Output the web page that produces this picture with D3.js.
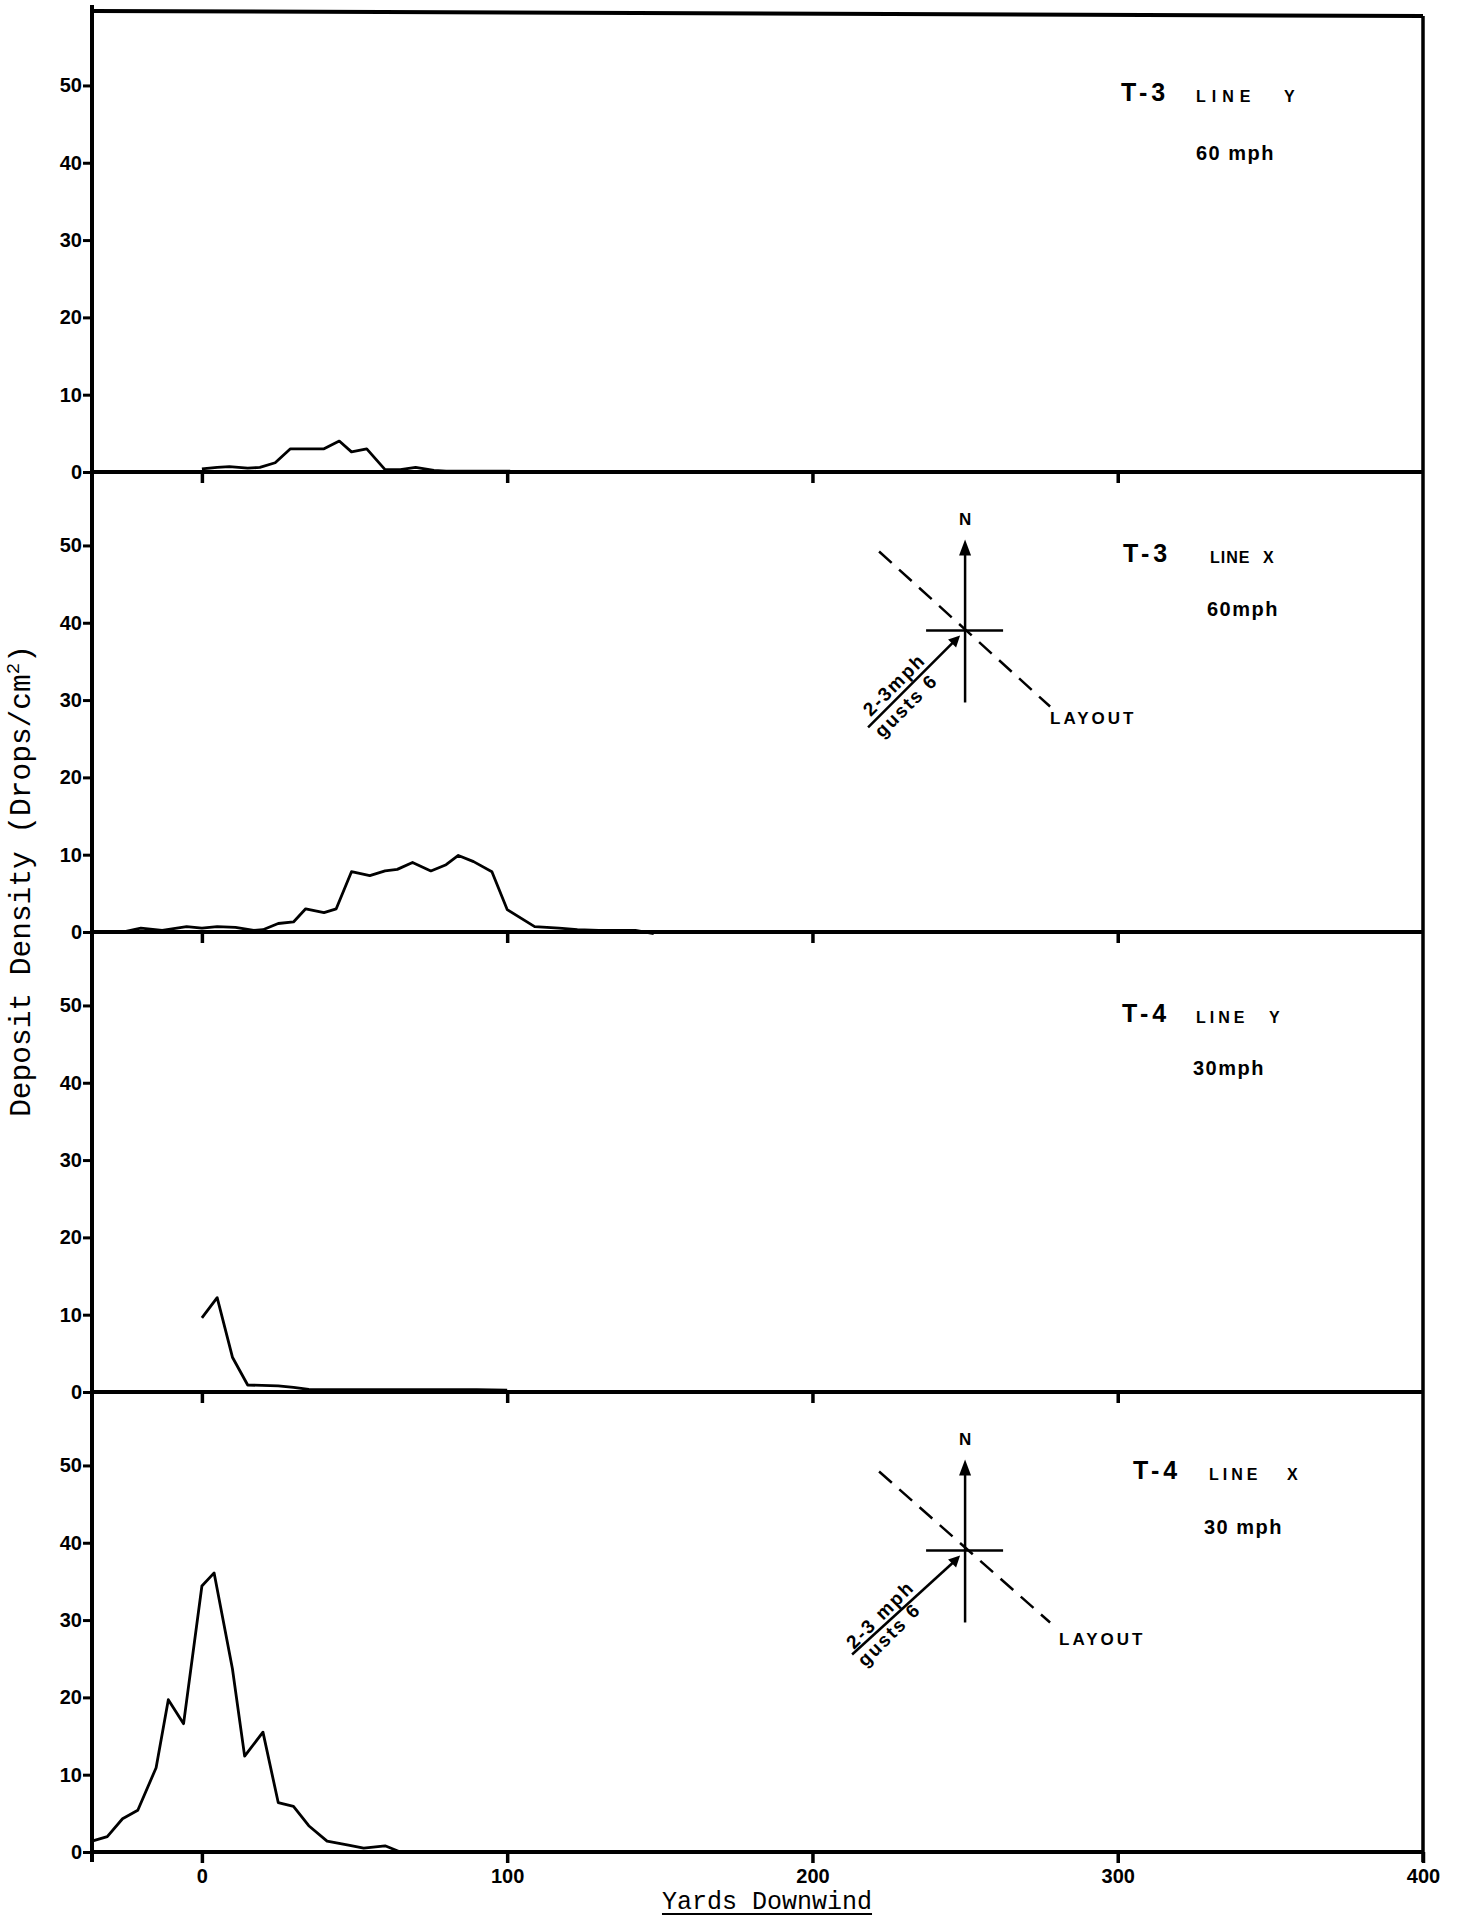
<!DOCTYPE html>
<html><head><meta charset="utf-8">
<script src="https://cdn.jsdelivr.net/npm/d3@7"></script>
<style>body{margin:0;background:#fff} svg{display:block}</style>
</head><body>
<script>
// ---------- data ----------
const xTicks = [0, 100, 200, 300, 400];
const yTicks = [0, 10, 20, 30, 40, 50];
const panelTests = ["T-3", "T-3", "T-4", "T-4"];
const panelLines = ["Y", "X", "Y", "X"];
const panelSpeeds = ["60 mph", "60mph", "30mph", "30 mph"];
const panelHasCompass = [false, true, false, true];
const windLabel = ["2-3mph", "2-3 mph"];
const gustLabel = "gusts 6";

// T-3 line Y (yards downwind, drops/cm2)
const t3YDist    = [0, 5, 9, 15, 19, 24, 29, 35, 40, 45, 49, 54, 60, 65, 70, 76, 80, 89, 101];
const t3YDensity = [0.4, 0.6, 0.7, 0.5, 0.6, 1.2, 3.0, 3.0, 3.0, 4.0, 2.6, 3.0, 0.3, 0.3, 0.6, 0.2, 0.1, 0.1, 0.1];
// T-3 line X
const t3XDist    = [-26, -20, -13, -5, 0, 5, 11, 17, 20, 25, 30, 34, 40, 44, 49, 55, 60, 64, 69, 75, 80, 84, 89, 95, 100, 109, 117, 123, 130, 142, 148];
const t3XDensity = [0.0, 0.5, 0.2, 0.7, 0.5, 0.7, 0.6, 0.2, 0.3, 1.1, 1.3, 3.0, 2.5, 3.0, 7.8, 7.3, 7.9, 8.1, 9.0, 7.9, 8.7, 9.9, 9.1, 7.8, 2.9, 0.7, 0.5, 0.3, 0.2, 0.2, -0.2];
// T-4 line Y
const t4YDist    = [0, 5, 10, 15, 25, 30, 35, 40, 50, 60, 70, 80, 90, 100];
const t4YDensity = [9.6, 12.2, 4.5, 0.9, 0.8, 0.6, 0.35, 0.3, 0.3, 0.3, 0.3, 0.3, 0.3, 0.25];
// T-4 line X
const t4XDist    = [-36, -31, -26, -21, -15, -11, -6, 0, 4, 10, 14, 20, 25, 30, 35, 41, 48, 53, 60, 65];
const t4XDensity = [1.4, 2.0, 4.3, 5.4, 10.9, 19.7, 16.6, 34.4, 36.1, 23.7, 12.4, 15.5, 6.4, 5.9, 3.4, 1.4, 0.9, 0.5, 0.8, 0.0];

const seriesDist = [t3YDist, t3XDist, t4YDist, t4XDist];
const seriesDensity = [t3YDensity, t3XDensity, t4YDensity, t4XDensity];

// ---------- layout ----------
const W = 1462, H = 1919;
const left = 92, right = 1423, top0 = 12, panelH = 460;
const svg = d3.select("body").append("svg").attr("width", W).attr("height", H);
const x = d3.scaleLinear().domain([-36, 400]).range([left, right]);
const tickFont = "'Liberation Sans', Arial, sans-serif";

const line = (y) => d3.line().x(d => x(d[0])).y(d => y(d[1]));

for (let i = 0; i < 4; i++) {
  const pt = top0 + panelH * i, pb = pt + panelH;
  const y = d3.scaleLinear().domain([0, 59.5]).range([pb, pt]);
  const g = svg.append("g");

  // y ticks
  const ya = g.append("g").attr("transform", `translate(${left},0)`)
    .call(d3.axisLeft(y).tickValues(yTicks).tickSize(9).tickPadding(1).tickFormat(d3.format("d")));
  ya.select(".domain").remove();
  ya.selectAll(".tick line").attr("stroke", "#000").attr("stroke-width", 3);
  ya.selectAll(".tick text").attr("fill", "#000").style("font-family", tickFont)
    .style("font-weight", "bold").style("font-size", "20px");

  // x ticks
  const isBottom = i === 3;
  const xa = g.append("g").attr("transform", `translate(0,${pb})`)
    .call(d3.axisBottom(x).tickValues(isBottom ? xTicks : xTicks.slice(0, 4)).tickSize(11).tickPadding(6)
      .tickFormat(isBottom ? d3.format("d") : ""));
  xa.select(".domain").remove();
  xa.selectAll(".tick line").attr("stroke", "#000").attr("stroke-width", 3.5);
  xa.selectAll(".tick text").attr("fill", "#000").style("font-family", tickFont)
    .style("font-weight", "bold").style("font-size", "20px");

  // panel baseline
  g.append("line").attr("x1", left).attr("x2", right).attr("y1", pb).attr("y2", pb)
    .attr("stroke", "#000").attr("stroke-width", 4);

  // data curve
  const pts = seriesDist[i].map((d, k) => [d, seriesDensity[i][k]]);
  g.append("path").datum(pts).attr("d", line(y)).attr("fill", "none")
    .attr("stroke", "#000").attr("stroke-width", 2.8).attr("stroke-linejoin", "round");

  // annotations
  const ann = g.append("g").style("font-family", tickFont).style("font-weight", "bold").attr("fill", "#000");
  const tx = [1121, 1123, 1122, 1133][i];
  const lx = [1196, 1210, 1196, 1209][i];
  const ylx = [1284, 1263, 1269, 1287][i];
  const lsp = [6, 1, 4, 4][i];
  const sx = [1196, 1207, 1193, 1204][i];
  const tb = [89, 90, 90, 87][i];
  const sb = [148, 144, 143, 142][i];
  ann.append("text").attr("x", tx).attr("y", pt + tb).style("font-size", "25px").style("letter-spacing", "4px").text(panelTests[i]);
  const lt = ann.append("text").attr("x", lx).attr("y", pt + tb + 1).style("font-size", "16px");
  lt.append("tspan").style("letter-spacing", lsp + "px").text("LINE");
  lt.append("tspan").attr("x", ylx).text(panelLines[i]);
  ann.append("text").attr("x", sx).attr("y", pt + sb).style("font-size", "20px").style("letter-spacing", "1.5px").text(panelSpeeds[i]);

  if (panelHasCompass[i]) {
    const cx = x(250), cy = y(39);
    const c = g.append("g").attr("transform", `translate(${cx},${cy})`);
    const k = i === 1 ? 0 : 1;
    // N arrow
    c.append("line").attr("x1", 0).attr("x2", 0).attr("y1", 72).attr("y2", -78).attr("stroke", "#000").attr("stroke-width", 2.5);
    c.append("path").attr("d", "M0,-91 L-6,-75 L6,-75 Z").attr("fill", "#000");
    c.append("text").attr("x", 0).attr("y", -105).attr("text-anchor", "middle")
      .style("font-family", tickFont).style("font-weight", "bold").style("font-size", "17px").text("N");
    // cross bar
    c.append("line").attr("x1", -39).attr("x2", 38).attr("y1", 0).attr("y2", 0).attr("stroke", "#000").attr("stroke-width", 2.5);
    // layout dashed line
    c.append("line").attr("x1", -86).attr("y1", -79).attr("x2", 85).attr("y2", [76, 72][k])
      .attr("stroke", "#000").attr("stroke-width", 2.5).attr("stroke-dasharray", "17,10");
    c.append("text").attr("x", [85, 94][k]).attr("y", [94, 95][k])
      .style("font-family", tickFont).style("font-weight", "bold").style("font-size", "17px")
      .style("letter-spacing", "3px").text("LAYOUT");
    // wind arrow
    const wx0 = [-97, -113][k], wy0 = [97, 104][k];
    c.append("line").attr("x1", wx0).attr("y1", wy0).attr("x2", -12).attr("y2", 12)
      .attr("stroke", "#000").attr("stroke-width", 2.5);
    c.append("path").attr("d", "M-5,5 L-17,9 L-9,17 Z").attr("fill", "#000");
    const ws = c.append("g").style("font-family", tickFont).style("font-weight", "bold").style("font-size", "19px").style("letter-spacing", "2px");
    const t1 = [[-71, 54], [-85, 64]][k], t2 = [[-59, 75], [-76, 84]][k];
    ws.append("text").attr("transform", `translate(${t1[0]},${t1[1]}) rotate(-45)`).attr("text-anchor", "middle")
      .attr("dy", "0.35em").text(windLabel[k]);
    ws.append("text").attr("transform", `translate(${t2[0]},${t2[1]}) rotate(-45)`).attr("text-anchor", "middle")
      .attr("dy", "0.35em").text(gustLabel);
  }
}

// frame
svg.append("line").attr("x1", left).attr("x2", left).attr("y1", 5).attr("y2", top0 + 4 * panelH + 10)
  .attr("stroke", "#000").attr("stroke-width", 4);
svg.append("line").attr("x1", left).attr("x2", right).attr("y1", top0 - 1).attr("y2", top0 + 4)
  .attr("stroke", "#000").attr("stroke-width", 4);
svg.append("line").attr("x1", right).attr("x2", right).attr("y1", top0 + 4).attr("y2", top0 + 4 * panelH + 10)
  .attr("stroke", "#000").attr("stroke-width", 3.5);

// axis titles
const yl = svg.append("text").attr("transform", `translate(30,881) rotate(-90)`).attr("text-anchor", "middle")
  .style("font-family", "'Liberation Mono', 'DejaVu Sans Mono', monospace").style("font-size", "29.5px").attr("fill", "#000");
yl.append("tspan").text("Deposit Density (Drops/cm");
yl.append("tspan").attr("baseline-shift", "super").style("font-size", "19px").text("2");
yl.append("tspan").text(")");

const xl = svg.append("text").attr("x", 767).attr("y", 1909).attr("text-anchor", "middle")
  .style("font-family", "'Liberation Mono', 'DejaVu Sans Mono', monospace").style("font-size", "25px").attr("fill", "#000")
  .text("Yards Downwind");
const xlw = xl.node().getComputedTextLength();
svg.append("line").attr("x1", 767 - xlw / 2).attr("x2", 767 + xlw / 2).attr("y1", 1914).attr("y2", 1914)
  .attr("stroke", "#000").attr("stroke-width", 2);
</script>
</body></html>
